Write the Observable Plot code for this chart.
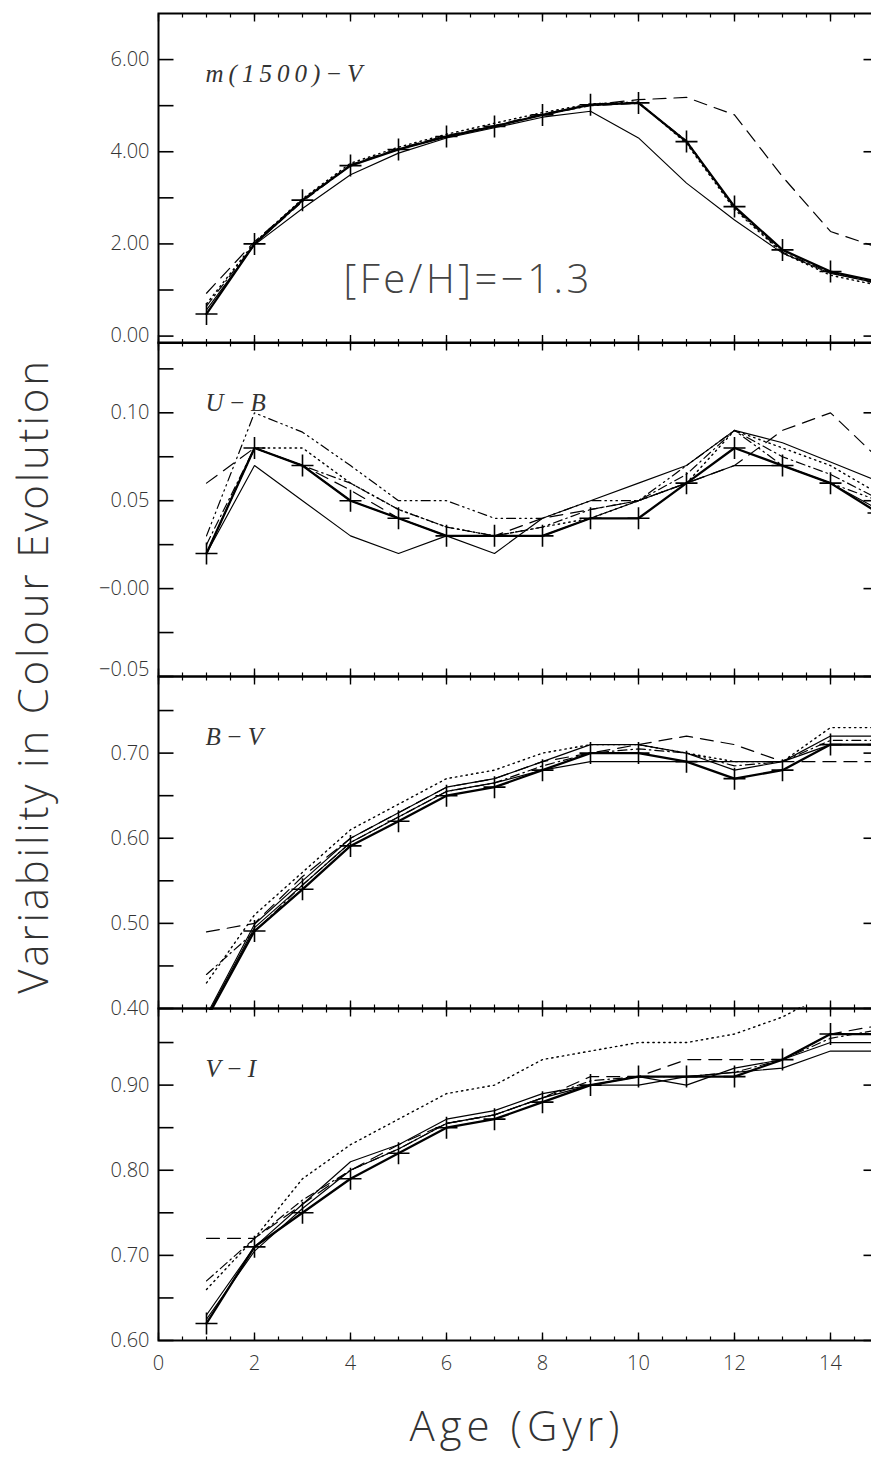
<!DOCTYPE html>
<html>
<head>
<meta charset="utf-8">
<script src="https://cdn.jsdelivr.net/npm/d3@7"></script>
<script src="https://cdn.jsdelivr.net/npm/@observablehq/plot@0.6"></script>
<style>
  html, body { margin: 0; background: #fff; overflow: hidden; }
  #fig { position: relative; width: 871px; height: 1461px; overflow: hidden; background: #fff; }
  #fig svg.panel { position: absolute; left: 0; }
  .axlab { position: absolute; font-family: "Open Sans", "Liberation Sans", sans-serif; font-weight: 300; color: #333; white-space: nowrap; }
</style>
</head>
<body>
<div id="fig"></div>
<script>
// Ages (Gyr) at which every model colour is tabulated
const ages = [1, 2, 3, 4, 5, 6, 7, 8, 9, 10, 11, 12, 13, 14, 15];

// m(1500)-V
const fuvRef     = [0.48, 2.00, 2.95, 3.70, 4.05, 4.33, 4.55, 4.80, 5.02, 5.06, 4.22, 2.81, 1.87, 1.40, 1.18];
const fuvThin    = [0.57, 1.98, 2.77, 3.50, 3.97, 4.30, 4.52, 4.75, 4.88, 4.30, 3.32, 2.52, 1.80, 1.36, 1.15];
const fuvDot     = [0.70, 2.03, 2.98, 3.75, 4.10, 4.38, 4.62, 4.85, 5.04, 5.08, 4.18, 2.75, 1.80, 1.32, 1.10];
const fuvDash    = [0.93, 2.05, 2.95, 3.72, 4.07, 4.35, 4.57, 4.82, 5.02, 5.13, 5.18, 4.80, 3.46, 2.27, 1.92];
const fuvDashDot = [0.65, 2.00, 2.92, 3.70, 4.05, 4.33, 4.56, 4.80, 5.00, 5.05, 4.24, 2.78, 1.82, 1.38, 1.14];

// U-B
const ubRef      = [0.020, 0.080, 0.070, 0.050, 0.040, 0.030, 0.030, 0.030, 0.040, 0.040, 0.060, 0.080, 0.070, 0.060, 0.043];
const ubThinA    = [0.020, 0.070, 0.050, 0.030, 0.020, 0.030, 0.020, 0.040, 0.050, 0.060, 0.070, 0.090, 0.083, 0.072, 0.061];
const ubThinB    = [0.020, 0.080, 0.070, 0.050, 0.040, 0.030, 0.030, 0.030, 0.040, 0.050, 0.060, 0.070, 0.070, 0.060, 0.045];
const ubDot      = [0.020, 0.080, 0.080, 0.060, 0.045, 0.035, 0.030, 0.035, 0.040, 0.050, 0.060, 0.090, 0.080, 0.070, 0.054];
const ubDash     = [0.060, 0.080, 0.070, 0.056, 0.040, 0.030, 0.030, 0.040, 0.045, 0.050, 0.060, 0.070, 0.090, 0.100, 0.074];
const ubDashDot  = [0.025, 0.080, 0.070, 0.060, 0.045, 0.035, 0.030, 0.035, 0.045, 0.050, 0.065, 0.090, 0.075, 0.065, 0.051];
const ubDash3Dot = [0.030, 0.100, 0.089, 0.070, 0.050, 0.050, 0.040, 0.040, 0.050, 0.050, 0.070, 0.090, 0.070, 0.060, 0.050];

// B-V
const bvRef      = [0.388, 0.491, 0.540, 0.591, 0.620, 0.650, 0.660, 0.680, 0.700, 0.700, 0.690, 0.670, 0.680, 0.710, 0.710];
const bvThinA    = [0.392, 0.499, 0.550, 0.600, 0.630, 0.660, 0.670, 0.690, 0.710, 0.710, 0.700, 0.680, 0.690, 0.720, 0.720];
const bvThinB    = [0.390, 0.495, 0.545, 0.595, 0.625, 0.655, 0.665, 0.680, 0.690, 0.690, 0.690, 0.690, 0.690, 0.710, 0.710];
const bvDot      = [0.430, 0.510, 0.560, 0.610, 0.640, 0.670, 0.680, 0.700, 0.710, 0.710, 0.700, 0.690, 0.690, 0.730, 0.730];
const bvDash     = [0.490, 0.500, 0.555, 0.600, 0.630, 0.660, 0.670, 0.690, 0.700, 0.710, 0.720, 0.710, 0.690, 0.690, 0.690];
const bvDashDot  = [0.440, 0.490, 0.545, 0.595, 0.625, 0.655, 0.665, 0.685, 0.700, 0.705, 0.700, 0.685, 0.690, 0.715, 0.715];

// V-I
const viRef      = [0.620, 0.710, 0.750, 0.790, 0.820, 0.850, 0.860, 0.880, 0.900, 0.910, 0.910, 0.910, 0.930, 0.960, 0.960];
const viThinA    = [0.630, 0.710, 0.760, 0.810, 0.830, 0.860, 0.870, 0.890, 0.900, 0.910, 0.900, 0.920, 0.930, 0.950, 0.950];
const viThinB    = [0.625, 0.705, 0.755, 0.800, 0.825, 0.855, 0.865, 0.885, 0.900, 0.900, 0.910, 0.915, 0.920, 0.940, 0.940];
const viDot      = [0.660, 0.720, 0.790, 0.830, 0.860, 0.890, 0.900, 0.930, 0.940, 0.950, 0.950, 0.960, 0.980, 1.010, 1.020];
const viDash     = [0.720, 0.720, 0.760, 0.800, 0.830, 0.855, 0.865, 0.885, 0.910, 0.910, 0.930, 0.930, 0.930, 0.960, 0.970];
const viDashDot  = [0.670, 0.720, 0.765, 0.800, 0.825, 0.855, 0.865, 0.885, 0.905, 0.910, 0.910, 0.915, 0.930, 0.955, 0.965];

// Axis ticks and labels
const xMajor = [0, 2, 4, 6, 8, 10, 12, 14];
const xMinor = d3.range(0, 15.01, 0.5);
const xTickLabels = ["0", "2", "4", "6", "8", "10", "12", "14"];

const panels = [
  { name: "m(1500)\u2212V", top: 12.5, bottom: 342, domain: [-0.15, 7.0],
    major: [0, 2, 4, 6], minor: [1, 3, 5],
    labels: ["0.00", "2.00", "4.00", "6.00"],
    series: { ref: fuvRef, thinA: fuvThin, dot: fuvDot, dash: fuvDash, dashdot: fuvDashDot },
    note: "[Fe/H]=\u22121.3" },
  { name: "U\u2212B", top: 342, bottom: 676, domain: [-0.05, 0.14],
    major: [-0.05, 0, 0.05, 0.10], minor: [-0.025, 0.025, 0.075, 0.125],
    labels: ["\u22120.05", "\u22120.00", "0.05", "0.10"],
    series: { ref: ubRef, thinA: ubThinA, thinB: ubThinB, dot: ubDot, dash: ubDash, dashdot: ubDashDot, dash3dot: ubDash3Dot } },
  { name: "B\u2212V", top: 676, bottom: 1008, domain: [0.40, 0.79],
    major: [0.40, 0.50, 0.60, 0.70], minor: [0.45, 0.55, 0.65, 0.75],
    labels: ["0.40", "0.50", "0.60", "0.70"],
    series: { ref: bvRef, thinA: bvThinA, thinB: bvThinB, dot: bvDot, dash: bvDash, dashdot: bvDashDot } },
  { name: "V\u2212I", top: 1008, bottom: 1340, domain: [0.60, 0.99],
    major: [0.60, 0.70, 0.80, 0.90], minor: [0.65, 0.75, 0.85, 0.95],
    labels: ["0.60", "0.70", "0.80", "0.90"],
    series: { ref: viRef, thinA: viThinA, thinB: viThinB, dot: viDot, dash: viDash, dashdot: viDashDot } }
];

// Line style for each model variant
const styles = {
  ref:      { strokeWidth: 2.3 },
  thinA:    { strokeWidth: 1.15 },
  thinB:    { strokeWidth: 1.15 },
  dot:      { strokeWidth: 1.4, strokeDasharray: "1.4,4" },
  dash:     { strokeWidth: 1.2, strokeDasharray: "13,8" },
  dashdot:  { strokeWidth: 1.2, strokeDasharray: "9,4,1.5,4" },
  dash3dot: { strokeWidth: 1.2, strokeDasharray: "9,4,1.5,4,1.5,4,1.5,4" }
};

// "+" marker drawn as two strokes
const plusSymbol = {
  draw(context, size) {
    const r = Math.sqrt(size / Math.PI);
    context.moveTo(-r, 0); context.lineTo(r, 0);
    context.moveTo(0, -r); context.lineTo(0, r);
  }
};
// A straight tick of fixed pixel length, pointing into the frame
const tickSymbol = (dx, dy) => ({
  draw(context) { context.moveTo(0, 0); context.lineTo(dx, dy); }
});

const tickFont = { fontSize: 20, fontFamily: "'Open Sans', 'Liberation Sans', sans-serif", fontWeight: 300, fill: "#333" };
const fig = document.getElementById("fig");
const W = 880, ML = 158, MR = 2, PAD = 2, XLAB = 40;

panels.forEach((p, i) => {
  const last = i === panels.length - 1;
  const rows = [];
  for (const [key, vals] of Object.entries(p.series)) {
    vals.forEach((v, j) => rows.push({ series: key, age: ages[j], value: v }));
  }
  const lineMarks = Object.keys(p.series).map(key =>
    Plot.line(rows.filter(d => d.series === key), {
      x: "age", y: "value", stroke: "black", strokeLinejoin: "miter", ...styles[key]
    })
  );
  const labelRows = p.major.map((v, k) => ({ v, label: p.labels[k] }));
  // the lowest U-B label is drawn slightly above its tick
  const shifted = i === 1 ? labelRows.slice(0, 1) : [];
  const regular = i === 1 ? labelRows.slice(1) : labelRows;

  const tick = { r: 1, stroke: "black", fill: "none" };
  // curves, markers, ticks and frame: clipped to the panel
  const dataMarks = [
    ...lineMarks,
    Plot.dot(rows.filter(d => d.series === "ref"), {
      x: "age", y: "value", symbol: plusSymbol, r: 11,
      stroke: "black", fill: "none", strokeWidth: 1.6
    }),
    Plot.dot([...p.major, ...p.minor], { y: d => d, frameAnchor: "left", symbol: tickSymbol(15, 0), strokeWidth: 1.6, ...tick }),
    Plot.dot(p.major, { y: d => d, frameAnchor: "right", symbol: tickSymbol(-15, 0), strokeWidth: 1.6, ...tick }),
    Plot.dot(xMajor, { x: d => d, frameAnchor: "top", symbol: tickSymbol(0, 8), strokeWidth: 1.4, ...tick }),
    Plot.dot(xMinor, { x: d => d, frameAnchor: "top", symbol: tickSymbol(0, 4), strokeWidth: 1.2, ...tick }),
    Plot.dot(xMajor, { x: d => d, frameAnchor: "bottom", symbol: tickSymbol(0, -8), strokeWidth: 1.4, ...tick }),
    Plot.dot(xMinor, { x: d => d, frameAnchor: "bottom", symbol: tickSymbol(0, -4), strokeWidth: 1.2, ...tick }),
    Plot.frame({ stroke: "black", strokeWidth: 2 }),
    Plot.text([p.name], { frameAnchor: "top-left", dx: 47, dy: 60, textAnchor: "start", lineAnchor: "middle",
      fontFamily: "'Liberation Serif', 'DejaVu Serif', serif", fontStyle: "italic", fontSize: 25, fill: "#333" })
  ];
  if (p.note) {
    dataMarks.push(Plot.text([p.note], { frameAnchor: "top-left", dx: 185, dy: 267, textAnchor: "start", lineAnchor: "middle",
      fontFamily: "'Open Sans', 'Liberation Sans', sans-serif", fontWeight: 300, fontSize: 40, fill: "#444" }));
  }

  // tick labels: may spill past the frame edges
  const labelMarks = [
    Plot.text(regular, { y: "v", text: "label", frameAnchor: "left", dx: -9, textAnchor: "end", ...tickFont })
  ];
  if (shifted.length) {
    labelMarks.push(Plot.text(shifted, { y: "v", text: "label", frameAnchor: "left", dx: -9, dy: -7, textAnchor: "end", ...tickFont }));
  }
  if (last) {
    labelMarks.push(Plot.text(xMajor, { x: d => d, text: (d, k) => xTickLabels[k], frameAnchor: "bottom", dy: 23,
      lineAnchor: "middle", ...tickFont }));
  }

  const h = p.bottom - p.top;
  const extra = last ? XLAB : 0;
  const common = {
    width: W, height: h + 2 * PAD + extra,
    marginLeft: ML, marginRight: MR, marginTop: PAD, marginBottom: PAD + extra,
    x: { domain: [0, 15], axis: null },
    y: { domain: p.domain, axis: null }
  };
  const dataSvg = Plot.plot({ ...common, style: "max-width:none;overflow:hidden;background:transparent;", marks: dataMarks });
  const labelSvg = Plot.plot({ ...common, style: "max-width:none;overflow:visible;background:transparent;", marks: labelMarks });
  for (const svg of [dataSvg, labelSvg]) {
    svg.classList.add("panel");
    svg.style.top = (p.top - PAD) + "px";
    svg.querySelectorAll("text").forEach(t => {
      if (t.textContent === p.name) t.setAttribute("letter-spacing", "5");
      if (p.note && t.textContent === p.note) t.setAttribute("letter-spacing", "3.5");
    });
    fig.appendChild(svg);
  }
});

// Shared axis titles
const xt = document.createElement("div");
xt.className = "axlab";
xt.textContent = "Age (Gyr)";
Object.assign(xt.style, { fontSize: "42px", letterSpacing: "5px", left: "517px", top: "1424px", transform: "translate(-50%, -50%)" });
fig.appendChild(xt);

const yt = document.createElement("div");
yt.className = "axlab";
yt.textContent = "Variability in Colour Evolution";
Object.assign(yt.style, { fontSize: "42px", letterSpacing: "2.8px", left: "31px", top: "676px", transform: "translate(-50%, -50%) rotate(-90deg)" });
fig.appendChild(yt);
</script>
</body>
</html>
